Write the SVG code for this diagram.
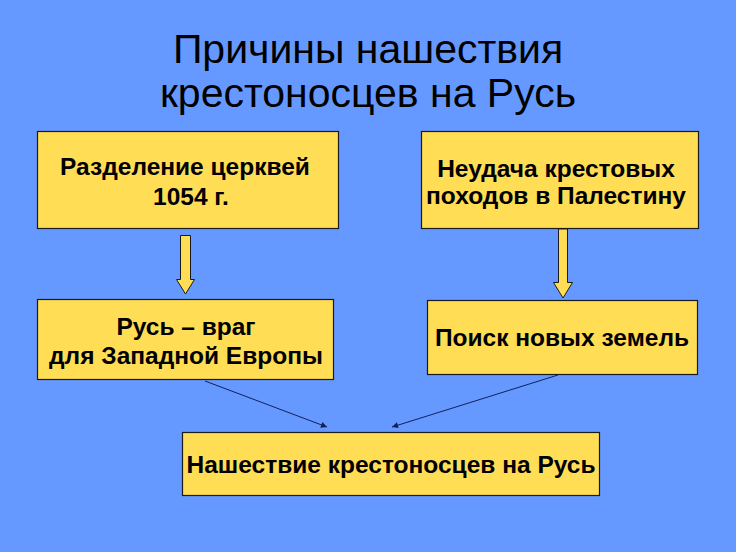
<svg xmlns="http://www.w3.org/2000/svg" width="736" height="552" viewBox="0 0 736 552">
<defs>
<style>
.box{fill:#FFDD55;stroke:#1a1a1a;stroke-width:1.2}
.t{font-family:"Liberation Sans",Arial,sans-serif;font-weight:bold;font-size:24.5px;fill:#000;text-anchor:middle}
.title{font-family:"Liberation Sans",Arial,sans-serif;font-size:41px;fill:#000;text-anchor:middle}
.blk{fill:#FFDD55;stroke:#1a1a1a;stroke-width:1}
.ln{stroke:#10205a;stroke-width:1;fill:none;marker-end:url(#ah)}
</style>
<marker id="ah" viewBox="0 0 10 10" refX="10" refY="5" markerWidth="8" markerHeight="6" orient="auto" markerUnits="userSpaceOnUse">
<path d="M0,0 L10,5 L0,10 z" fill="#10205a"/>
</marker>
</defs>
<rect width="736" height="552" fill="#6699FF"/>
<g id="title">
<text class="title" x="368" y="63">Причины нашествия</text>
<text class="title" x="368" y="107">крестоносцев на Русь</text>
</g>
<g id="node-split">
<rect class="box" x="37.5" y="131.5" width="301" height="97"/>
<text class="t" x="185" y="175">Разделение церквей</text>
<text class="t" x="191" y="205">1054 г.</text>
</g>
<g id="node-fail">
<rect class="box" x="421.5" y="131.5" width="277" height="97"/>
<text class="t" x="556" y="177">Неудача крестовых</text>
<text class="t" x="556" y="204">походов в Палестину</text>
</g>
<g id="node-enemy">
<rect class="box" x="37.5" y="299.5" width="296" height="80"/>
<text class="t" x="186" y="335">Русь – враг</text>
<text class="t" x="186" y="364">для Западной Европы</text>
</g>
<g id="node-search">
<rect class="box" x="427.5" y="300.5" width="270" height="74"/>
<text class="t" x="562" y="346">Поиск новых земель</text>
</g>
<g id="node-invasion">
<rect class="box" x="182.5" y="432.5" width="417" height="63"/>
<text class="t" x="391" y="473">Нашествие крестоносцев на Русь</text>
</g>
<g id="connectors">
<path class="blk" d="M180.5,235.5 H190.5 V279.5 H194.5 L185.5,294 L176.5,279.5 H180.5 Z"/>
<path class="blk" d="M558.5,229 H567.5 V282.5 H572.5 L563,298 L553.5,282.5 H558.5 Z"/>
<line class="ln" x1="205" y1="381" x2="327" y2="427"/>
<line class="ln" x1="558" y1="375" x2="392" y2="427"/>
</g>
</svg>
